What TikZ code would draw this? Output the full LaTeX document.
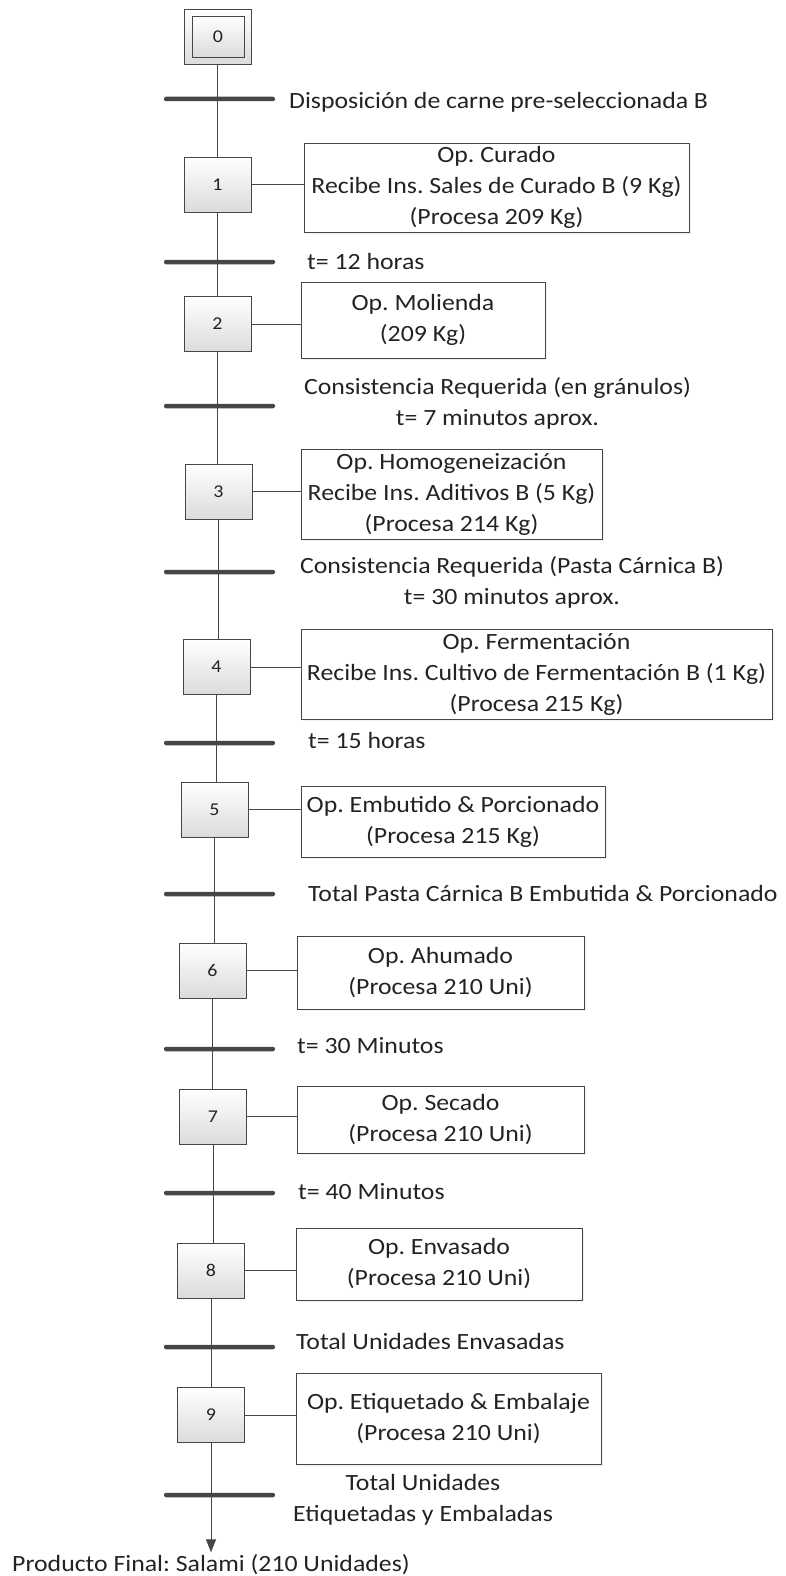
\documentclass[tikz,border=0pt]{standalone}
\usepackage{fontspec}
\setmainfont{Carlito}[FakeStretch=1.107]
\usepackage{tikz}
\usetikzlibrary{arrows.meta,shadows}

\definecolor{linea}{RGB}{70,70,70}
\definecolor{texto}{RGB}{35,35,35}
\frenchspacing

\begin{document}
\begin{tikzpicture}[x=1pt,y=-1pt,
  every node/.style={text=texto},
  etapa/.style={draw=linea, line width=0.9pt, top color=white, bottom color=black!14,
    minimum width=67pt, minimum height=55pt, inner sep=0pt, font=\fontsize{18}{20}\selectfont},
  accion/.style={draw=linea, line width=1pt, fill=white, align=center, inner sep=2pt,
    font=\fontsize{23.3}{31}\selectfont,
    drop shadow={opacity=0.12, shadow xshift=1.5pt, shadow yshift=-1.5pt}},
  barra/.style={fill=linea, minimum width=111pt, minimum height=4.5pt, inner sep=0pt, rounded corners=2pt},
  etiqueta/.style={inner sep=0pt, align=center, font=\fontsize{23.3}{31}\selectfont},
  linea1/.style={etiqueta, anchor=west, text height=19pt, text depth=6pt},
  enlace/.style={draw=linea, line width=1pt}]
\useasboundingbox (0,0) rectangle (785,1576);
%
\node[etapa] (s0) at (217.5,36.5) {};
\node[etapa, minimum width=52pt, minimum height=41pt] (s0i) at (218,36.5) {0};
\node[etapa] (s1) at (217.5,184.5) {1};
\node[etapa] (s2) at (217.5,324) {2};
\node[etapa] (s3) at (218.5,491.5) {3};
\node[etapa] (s4) at (216.5,667) {4};
\node[etapa] (s5) at (214.5,809.5) {5};
\node[etapa] (s6) at (212.5,970.5) {6};
\node[etapa] (s7) at (213,1116.5) {7};
\node[etapa] (s8) at (211,1270.5) {8};
\node[etapa] (s9) at (211,1415) {9};
%
\node[accion, minimum width=385pt, minimum height=89pt] (a1) at (496.5,187.5)
  {Op. Curado\\Recibe Ins. Sales de Curado B (9 Kg)\\(Procesa 209 Kg)};
\node[accion, minimum width=244pt, minimum height=76pt] (a2) at (423,320)
  {Op. Molienda\\(209 Kg)};
\node[accion, minimum width=301pt, minimum height=90pt] (a3) at (451.5,494)
  {Op. Homogeneización\\Recibe Ins. Aditivos B (5 Kg)\\(Procesa 214 Kg)};
\node[accion, minimum width=471pt, minimum height=90pt] (a4) at (536.5,674)
  {Op. Fermentación\\Recibe Ins. Cultivo de Fermentación B (1 Kg)\\(Procesa 215 Kg)};
\node[accion, minimum width=304pt, minimum height=71pt] (a5) at (453,821.5)
  {Op. Embutido \& Porcionado\\(Procesa 215 Kg)};
\node[accion, minimum width=287pt, minimum height=73pt] (a6) at (440.5,972.5)
  {Op. Ahumado\\(Procesa 210 Uni)};
\node[accion, minimum width=287pt, minimum height=67pt] (a7) at (440.5,1119.5)
  {Op. Secado\\(Procesa 210 Uni)};
\node[accion, minimum width=286pt, minimum height=72pt] (a8) at (439,1264)
  {Op. Envasado\\(Procesa 210 Uni)};
\node[accion, minimum width=305pt, minimum height=91pt] (a9) at (448.5,1418.5)
  {Op. Etiquetado \& Embalaje\\(Procesa 210 Uni)};
%
\node[etiqueta, text height=19pt, text depth=6pt] (fin) at (211,1565)
  {Producto Final: Salami (210 Unidades)};
%
\draw[enlace] (s0.south) -- (s0.south |- s1.north);
\draw[enlace] (s1.south) -- (s1.south |- s2.north);
\draw[enlace] (s2.south) -- (s2.south |- s3.north);
\draw[enlace] (s3.south) -- (s3.south |- s4.north);
\draw[enlace] (s4.south) -- (s4.south |- s5.north);
\draw[enlace] (s5.south) -- (s5.south |- s6.north);
\draw[enlace] (s6.south) -- (s6.south |- s7.north);
\draw[enlace] (s7.south) -- (s7.south |- s8.north);
\draw[enlace] (s8.south) -- (s8.south |- s9.north);
\draw[enlace, -{Triangle[length=13pt,width=10pt]}] (s9.south) -- (fin.north);
%
\draw[enlace] (s1.east) -- (s1.east -| a1.west);
\draw[enlace] (s2.east) -- (s2.east -| a2.west);
\draw[enlace] (s3.east) -- (s3.east -| a3.west);
\draw[enlace] (s4.east) -- (s4.east -| a4.west);
\draw[enlace] (s5.east) -- (s5.east -| a5.west);
\draw[enlace] (s6.east) -- (s6.east -| a6.west);
\draw[enlace] (s7.east) -- (s7.east -| a7.west);
\draw[enlace] (s8.east) -- (s8.east -| a8.west);
\draw[enlace] (s9.east) -- (s9.east -| a9.west);
%
\node[barra] (t1) at (219.5,99) {};
\node[barra] (t2) at (219.5,262) {};
\node[barra] (t3) at (219.5,406) {};
\node[barra] (t4) at (219.5,572) {};
\node[barra] (t5) at (219.5,743) {};
\node[barra] (t6) at (219.5,894) {};
\node[barra] (t7) at (219.5,1049) {};
\node[barra] (t8) at (219.5,1193) {};
\node[barra] (t9) at (219.5,1347) {};
\node[barra] (t10) at (219.5,1495) {};
%
\node[linea1] (e1) at (289,102) {Disposición de carne pre-seleccionada B};
\node[linea1] (e2) at (307,263) {t= 12 horas};
\node[etiqueta] (e3) at (497.5,403) {Consistencia Requerida (en gránulos)\\t= 7 minutos aprox.};
\node[etiqueta] (e4) at (512,582.5) {Consistencia Requerida (Pasta Cárnica B)\\t= 30 minutos aprox.};
\node[linea1] (e5) at (308,742) {t= 15 horas};
\node[linea1] (e6) at (308,895) {Total Pasta Cárnica B Embutida \& Porcionado};
\node[linea1] (e7) at (297,1047) {t= 30 Minutos};
\node[linea1] (e8) at (298,1193) {t= 40 Minutos};
\node[linea1] (e9) at (296,1343) {Total Unidades Envasadas};
\node[etiqueta] (e10) at (423,1500) {Total Unidades\\Etiquetadas y Embaladas};
%%%%%%%%%%%%%%%%%%%%%%%%%%%%%%%
\end{tikzpicture}
\end{document}
